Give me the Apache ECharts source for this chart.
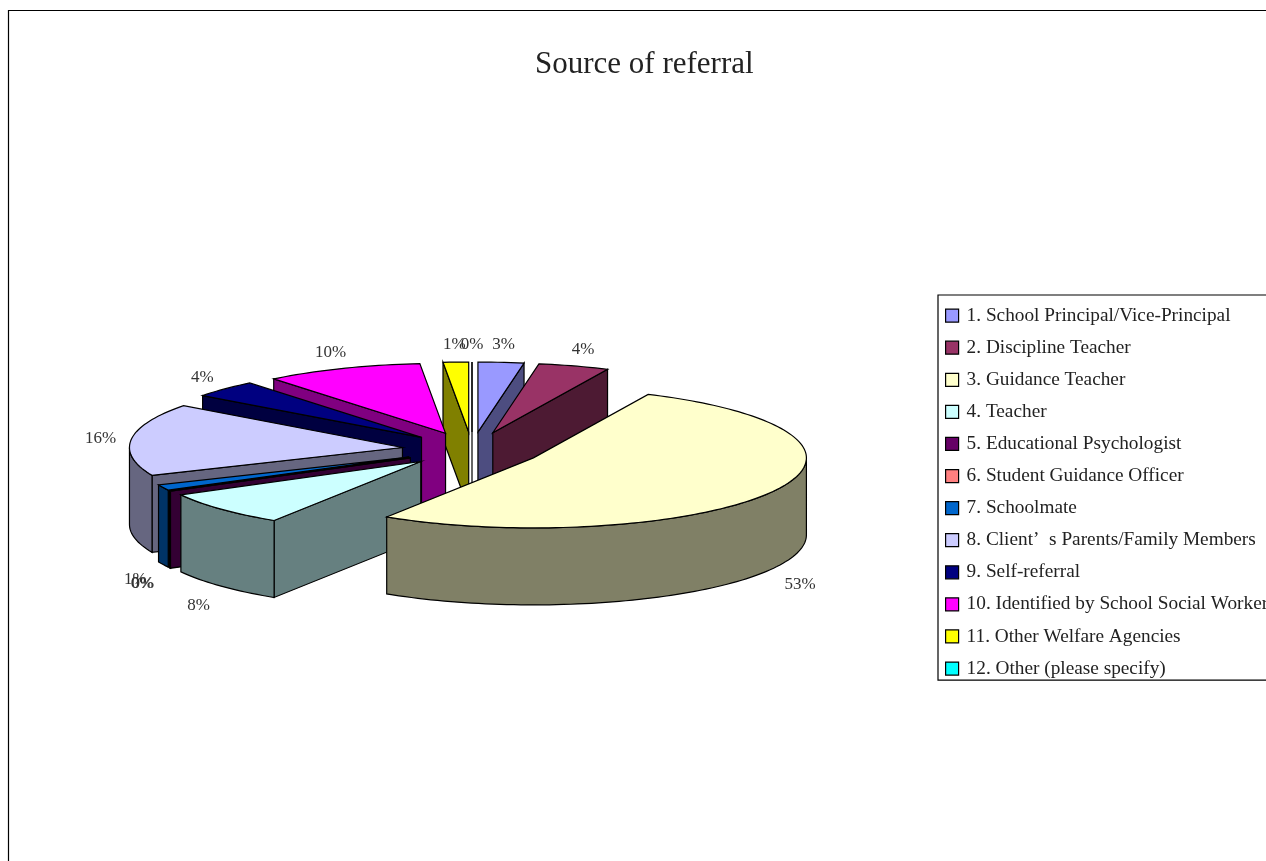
<!DOCTYPE html>
<html>
<head>
<meta charset="utf-8">
<style>html,body{margin:0;padding:0;background:#fff;overflow:hidden}#c{width:1266px;height:861px}</style>
<script src="https://cdn.jsdelivr.net/npm/echarts@6/dist/echarts.min.js"></script>
</head>
<body>
<div id="c"></div>
<script>
const categories = ["1. School Principal/Vice-Principal","2. Discipline Teacher","3. Guidance Teacher","4. Teacher","5. Educational Psychologist","6. Student Guidance Officer","7. Schoolmate","8. Client’  s Parents/Family Members","9. Self-referral","10. Identified by School Social Worker","11. Other Welfare Agencies","12. Other (please specify)"];
const values = [2.7,4.2,52.1,8.05,0.1,0,1.3,16.7,3.97,9.33,1.5,0];
const pctLabels = ["3%","4%","53%","8%","0%","0%","1%","16%","4%","10%","1%","0%"];
const colors = ["#9999FF","#993366","#FFFFCC","#CCFFFF","#660066","#FF8080","#0066CC","#CCCCFF","#000080","#FF00FF","#FFFF00","#00FFFF"];
const drawOrder = [0,1,11,10,9,8,7,6,5,4,3,2];
const FONT = '"Liberation Serif","Noto Sans CJK TC",serif';
const PIE = {cx:472, cy:449.5, rx:273, ry:70, depth:77, explode:70};

function shade(hex){
  const n=parseInt(hex.slice(1),16);
  const h=v=>Math.round(v/2).toString(16).padStart(2,'0');
  return '#'+h(n>>16&255)+h(n>>8&255)+h(n&255);
}
const total = values.reduce((a,b)=>a+b,0);
let acc = 0;
const spans = values.map(v=>{const s=acc/total*360; acc+=v; return [s,acc/total*360];});
const rad = d=>d*Math.PI/180;

function arc(c,a0,a1,dz){
  const pts=[], n=Math.max(1,Math.ceil((a1-a0)/1.5));
  for(let k=0;k<=n;k++){
    const a=rad(a0+(a1-a0)*k/n);
    pts.push([c[0]+PIE.rx*Math.sin(a), c[1]-PIE.ry*Math.cos(a)+dz]);
  }
  return pts;
}
function renderSlice(i){
  return function(params,api){
    const a0=api.value(0), a1=api.value(1), mid=rad((a0+a1)/2);
    const c=[PIE.cx+PIE.explode*Math.sin(mid), PIE.cy-PIE.explode*0.25*Math.cos(mid)];
    const col=colors[i], dark=shade(col), d=PIE.depth;
    const poly=(pts,fill)=>({type:'polygon',shape:{points:pts},style:{fill:fill,stroke:'#000',lineWidth:1.2}});
    const kids=[];
    const face=a=>{const p=arc(c,a,a,0)[0];return poly([c,p,[p[0],p[1]+d],[c[0],c[1]+d]],dark);};
    if(a0>=180) kids.push(face(a0));
    if(a1<180) kids.push(face(a1));
    const w0=Math.max(a0,90), w1=Math.min(a1,270);
    if(w1>w0) kids.push(poly(arc(c,w0,w1,0).concat(arc(c,w0,w1,d).reverse()),dark));
    kids.push(poly([c].concat(arc(c,a0,a1,0)),col));
    const front=Math.cos(mid)<0?d+5:0;
    kids.push({type:'text',z2:50,style:{
      x:c[0]+(PIE.rx+31)*Math.sin(mid),
      y:c[1]-(PIE.ry+19)*Math.cos(mid)+front+1.5,
      text:pctLabels[i],align:'center',verticalAlign:'middle',
      font:'17px '+FONT,fill:'#333'}});
    return {type:'group',children:kids};
  };
}
const series = categories.map((name,i)=>({
  type:'custom',name:name,coordinateSystem:'none',silent:true,clip:false,
  z:2+drawOrder[i],itemStyle:{color:colors[i]},
  data:[spans[i]],renderItem:renderSlice(i)
}));
const chart=echarts.init(document.getElementById('c'),null,{renderer:'canvas'});
chart.setOption({
  animation:false,
  backgroundColor:'#fff',
  color:colors,
  title:{text:'Source of referral',left:535,top:49,
    padding:0,
    textStyle:{fontFamily:FONT,fontSize:31,fontWeight:'normal',color:'#222'}},
  legend:{orient:'vertical',left:938,top:295,padding:[11,12,2,7],itemGap:12.8,itemWidth:13,itemHeight:13,
    icon:'rect',selectedMode:false,data:categories,
    backgroundColor:'#fff',borderColor:'#000',borderWidth:1.2,
    itemStyle:{borderColor:'#000',borderWidth:1.2},
    textStyle:{fontFamily:FONT,fontSize:19.3,color:'#222',padding:[0,0,0,3]}},
  graphic:[{type:'rect',silent:true,z:-1,shape:{x:8.5,y:10.5,width:1400,height:1000},style:{fill:'none',stroke:'#000',lineWidth:1.2}}],
  series:series
});
</script>
</body>
</html>
